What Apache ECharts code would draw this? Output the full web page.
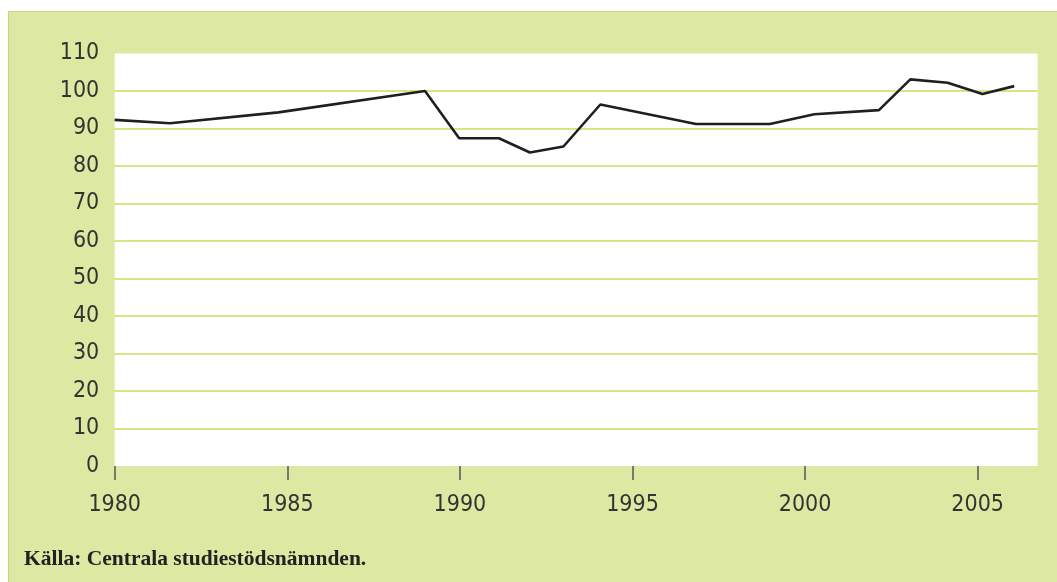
<!DOCTYPE html>
<html>
<head>
<meta charset="utf-8">
<script src="https://cdn.jsdelivr.net/npm/echarts@6/dist/echarts.min.js"></script>
<style>
  html, body { margin: 0; padding: 0; background: #ffffff; }
  #wrap { position: relative; width: 1057px; height: 582px; overflow: hidden; }
  #panel {
    position: absolute; left: 8px; top: 11px; width: 1100px; height: 600px;
    background: #dde8a2;
    border-left: 1.5px solid #c3d874; border-top: 1.5px solid #c3d874;
  }
  #chart { position: absolute; left: 0; top: 0; width: 1057px; height: 582px; }
</style>
</head>
<body>
<div id="wrap">
  <div id="panel"></div>
  <div id="chart"></div>
</div>
<script>
// Index series, 1980 onwards
const years = [1980.0, 1981.6, 1984.74, 1988.99, 1989.98, 1991.13, 1992.03, 1993.0, 1994.07,
               1996.84, 1998.98, 2000.27, 2002.14, 2003.05, 2004.13, 2005.14, 2006.06];
const values = [92.3, 91.4, 94.3, 100.0, 87.4, 87.4, 83.6, 85.2, 96.4,
                91.2, 91.2, 93.8, 94.9, 103.1, 102.2, 99.2, 101.3];

const xTickYears = [1980, 1985, 1990, 1995, 2000, 2005];
const yTickValues = [0, 10, 20, 30, 40, 50, 60, 70, 80, 90, 100, 110];
const sourceText = 'Källa: Centrala studiestödsnämnden.';

const axisFont = '"Liberation Sans Narrow", "Arial Narrow", "DejaVu Sans Condensed", sans-serif';

const chart = echarts.init(document.getElementById('chart'), null, { renderer: 'canvas' });

chart.setOption({
  backgroundColor: 'transparent',
  animation: false,
  grid: {
    left: 114.7, right: 19.3, top: 53.5, bottom: 116,
    show: true, backgroundColor: '#ffffff', borderWidth: 0
  },
  xAxis: {
    type: 'value',
    min: 1980,
    max: 2006.74,
    interval: 5,
    axisLine: { show: false },
    splitLine: { show: false },
    axisTick: {
      show: true,
      customValues: xTickYears,
      length: 14,
      lineStyle: { color: '#555555', width: 1.5 }
    },
    axisLabel: {
      customValues: xTickYears,
      margin: 28,
      fontFamily: axisFont,
      fontSize: 23,
      color: '#333333',
      formatter: v => String(v)
    }
  },
  yAxis: {
    type: 'value',
    min: yTickValues[0],
    max: yTickValues[yTickValues.length - 1],
    interval: 10,
    axisLine: { show: false },
    axisTick: { show: false },
    splitLine: {
      show: true,
      showMinLine: false,
      showMaxLine: false,
      lineStyle: { color: '#c6dc5c', width: 1.5 }
    },
    axisLabel: {
      margin: 15.5,
      fontFamily: axisFont,
      fontSize: 23,
      color: '#333333'
    }
  },
  series: [{
    type: 'line',
    data: years.map((y, i) => [y, values[i]]),
    showSymbol: false,
    lineStyle: { color: '#1f1f1f', width: 2.6 },
    z: 5
  }],
  graphic: [{
    type: 'text',
    left: 24,
    top: 548,
    style: {
      text: sourceText,
      fontFamily: '"Liberation Serif", "DejaVu Serif", serif',
      fontWeight: 'bold',
      fontSize: 21.5,
      fill: '#222222'
    }
  }]
});
</script>
</body>
</html>
